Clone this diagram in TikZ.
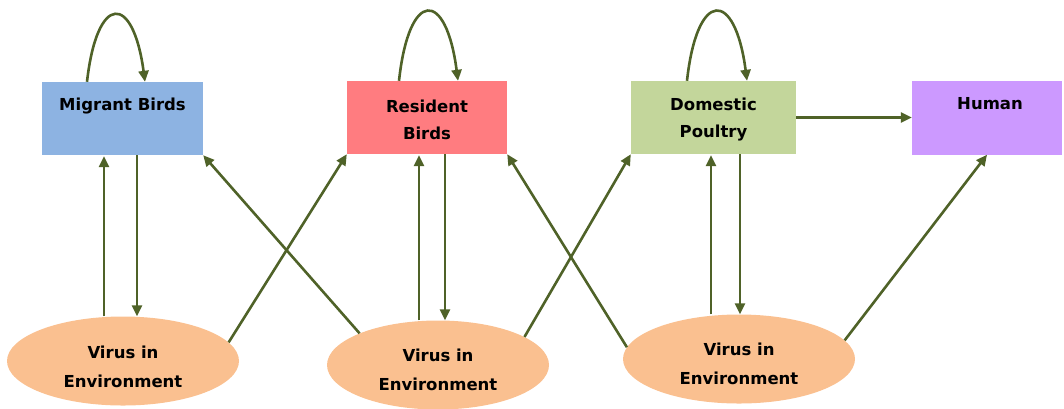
\documentclass[tikz,border=0pt]{standalone}
\usepackage{fontspec}
\setmainfont{DejaVu Sans}
\usetikzlibrary{shapes.geometric,arrows.meta}
\definecolor{migc}{RGB}{141,179,226}
\definecolor{resc}{RGB}{255,124,128}
\definecolor{domc}{RGB}{195,214,155}
\definecolor{humc}{RGB}{204,153,255}
\definecolor{envc}{RGB}{250,192,144}
\definecolor{arrc}{RGB}{79,98,40}
\tikzset{
  box/.style={rectangle, inner sep=0pt, minimum height=73pt},
  boxtext/.style={inner sep=0pt, align=center, font=\fontsize{16.5}{27}\selectfont\bfseries},
  env/.style={ellipse, fill=envc, inner sep=0pt, minimum width=232pt, minimum height=89pt},
  envtext/.style={inner sep=0pt, align=center, font=\fontsize{16.5}{29}\selectfont\bfseries},
  arr/.style={draw=arrc, line width=2.6pt, -{Triangle[length=11pt,width=10pt]}, fill=none},
}
\begin{document}
\begin{tikzpicture}[x=1pt,y=-1pt]
\useasboundingbox (0,0) rectangle (1064,408);
% boxes
\node[box, fill=migc, minimum width=161pt] (b1) at (122.5,118.5) {};
\node[box, fill=resc, minimum width=160pt] (b2) at (427,117.5) {};
\node[box, fill=domc, minimum width=165pt] (b3) at (713.5,117.5) {};
\node[box, fill=humc, minimum width=150pt, minimum height=74pt] (b4) at (987,117.5) {};
\node[boxtext, anchor=base] (t1) at ([yshift=-29pt]b1.north) {Migrant Birds};
\node[boxtext] (t2) at ([yshift=-2pt]b2.center) {Resident\\Birds};
\node[boxtext] (t3) at ([yshift=-2.5pt]b3.center) {Domestic\\Poultry};
\node[boxtext, anchor=base] (t4) at ([xshift=3pt,yshift=-29pt]b4.north) {Human};
% ellipses
\node[env] (e1) at (123,361) {};
\node[env, minimum width=222pt] (e2) at (438,365) {};
\node[env] (e3) at (739,359) {};
\node[envtext] (te1) at ([yshift=-6pt]e1.center) {Virus in\\Environment};
\node[envtext] (te2) at ([yshift=-5pt]e2.center) {Virus in\\Environment};
\node[envtext] (te3) at ([yshift=-5pt]e3.center) {Virus in\\Environment};
% self loops
\draw[arr] ([xshift=-35.5pt]b1.north) .. controls +(10,-89) and +(-12,-89) .. ([xshift=22.5pt]b1.north);
\draw[arr] ([xshift=-28pt]b2.north) .. controls +(10,-92) and +(-12,-92) .. ([xshift=31pt]b2.north);
\draw[arr] ([xshift=-26.5pt]b3.north) .. controls +(10,-92) and +(-12,-92) .. ([xshift=33.5pt]b3.north);
% vertical pairs
\draw[arr] ([xshift=-18.5pt]b1.south |- e1.north) -- ([xshift=-18.5pt,yshift=-1pt]b1.south);
\draw[arr] ([xshift=14.5pt]b1.south) -- ([xshift=14.5pt]b1.south |- e1.north);
\draw[arr] ([xshift=-8pt]b2.south |- e2.north) -- ([xshift=-8pt,yshift=-1pt]b2.south);
\draw[arr] ([xshift=18pt]b2.south) -- ([xshift=18pt]b2.south |- e2.north);
\draw[arr] ([xshift=-2.5pt]b3.south |- e3.north) -- ([xshift=-2.5pt,yshift=-1pt]b3.south);
\draw[arr] ([xshift=26.5pt]b3.south) -- ([xshift=26.5pt]b3.south |- e3.north);
% diagonals
\draw[arr] (e1.10) -- (b2.south west);
\draw[arr] (e2.158) -- (b1.south east);
\draw[arr] (e2.18) -- (b3.south west);
\draw[arr] (e3.174) -- (b2.south east);
\draw[arr] (e3.10) -- (b4.south);
\draw[arr] (b3.east) -- (b4.west);
\end{tikzpicture}
\end{document}
